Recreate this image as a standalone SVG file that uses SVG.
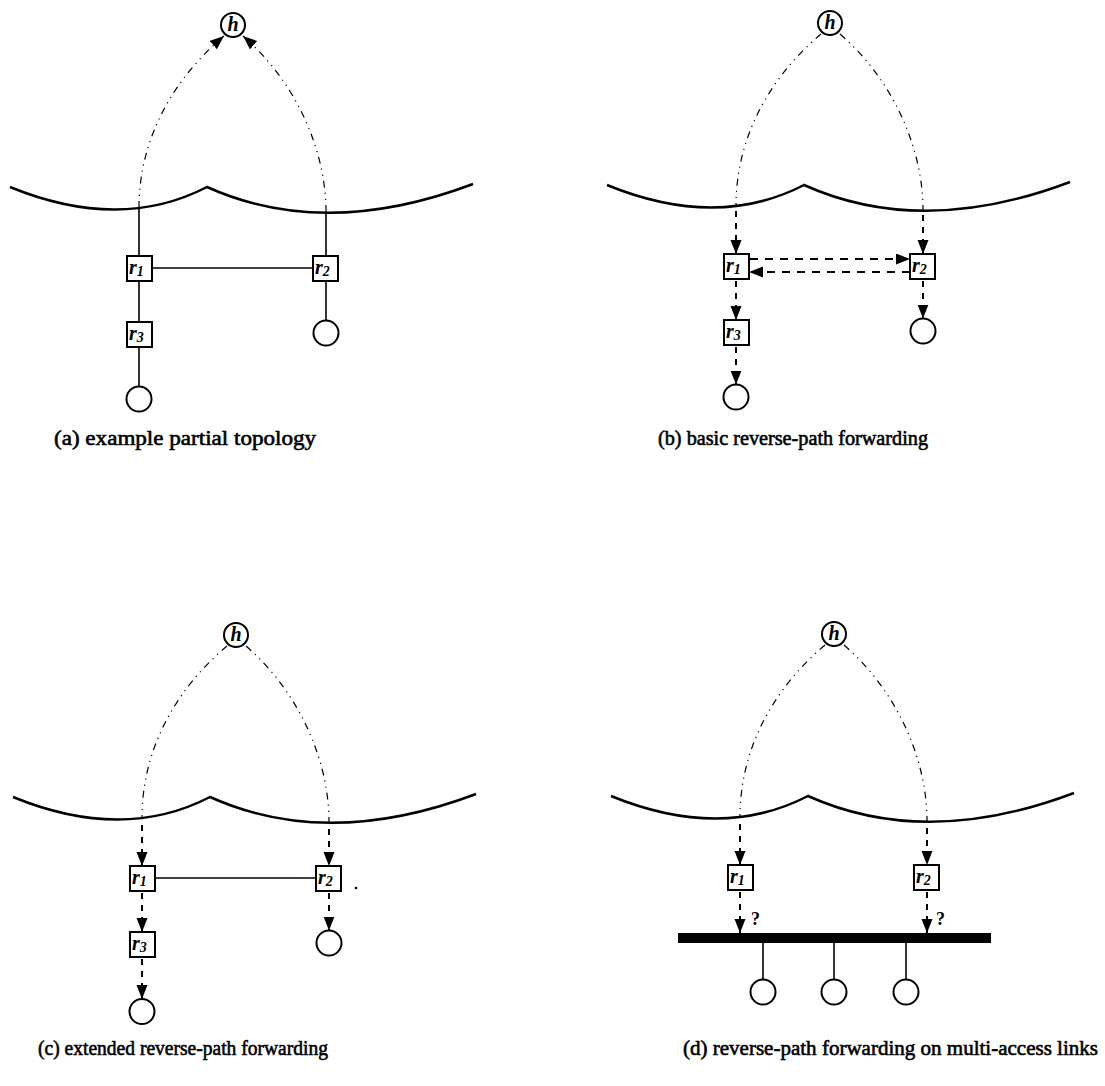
<svg xmlns="http://www.w3.org/2000/svg" width="1105" height="1086" viewBox="0 0 1105 1086">
<style>
.wave{fill:none;stroke:#000;stroke-width:2.5}
.box{fill:#fff;stroke:#000;stroke-width:2}
.host{fill:#fff;stroke:#000;stroke-width:2}
.link{stroke:#000;stroke-width:1.6;fill:none}
.arr{stroke:#000;stroke-width:2;stroke-dasharray:6 6;fill:none}
.harr{stroke:#000;stroke-width:2;stroke-dasharray:8 7;fill:none}
.rp{stroke:#000;stroke-width:1.2;stroke-dasharray:7 5 1.2 5 1.2 5;fill:none}
.lbl{font-family:"Liberation Serif","Times New Roman",serif;font-style:italic;font-weight:bold;font-size:20px}
.sub{font-size:14px}
.q{font-family:"Liberation Serif","Times New Roman",serif;font-weight:bold;font-size:18px}
.cap{font-family:"Liberation Serif","Times New Roman",serif;font-weight:normal;font-size:21px;stroke:#000;stroke-width:0.6}
</style>
<defs>
<marker id="ah" markerUnits="userSpaceOnUse" markerWidth="15" markerHeight="12" refX="14" refY="5.5" orient="auto" viewBox="0 0 15 12"><path d="M0,0 L14,5.5 L0,11 z" fill="#000"/></marker>
<g id="hnode"><circle class="host" cx="233" cy="25" r="12"/><text class="lbl" x="233" y="31" text-anchor="middle" font-size="18">h</text></g>
<path id="waveP" class="wave" d="M10,187 Q120,232 207,187 Q325,240 473,184"/>
</defs>

<!-- Panel (a) -->
<g id="panel-a">
  <use href="#waveP"/>
  <g id="a-connectors">
    <line class="link" x1="139" y1="208" x2="139" y2="256"/>
    <line class="link" x1="326" y1="212" x2="326" y2="256"/>
    <line class="link" x1="152" y1="268" x2="313" y2="268"/>
    <line class="link" x1="139" y1="281" x2="139" y2="322"/>
    <line class="link" x1="139" y1="347" x2="139" y2="386.5"/>
    <line class="link" x1="326" y1="281" x2="326" y2="320.5"/>
    <path class="rp" d="M139,208 C139,140 172,80 224,36" marker-end="url(#ah)"/>
    <path class="rp" d="M326,212 C326,150 296,82 243,36" marker-end="url(#ah)"/>
  </g>
  <g id="a-h"><use href="#hnode"/></g>
  <g id="a-r1"><rect class="box" x="127" y="256" width="25" height="25"/><text class="lbl" x="129" y="274">r<tspan class="sub" dy="2">1</tspan></text></g>
  <g id="a-r2"><rect class="box" x="313" y="256" width="25" height="25"/><text class="lbl" x="315" y="274">r<tspan class="sub" dy="2">2</tspan></text></g>
  <g id="a-r3"><rect class="box" x="127" y="322" width="25" height="25"/><text class="lbl" x="129" y="340">r<tspan class="sub" dy="2">3</tspan></text></g>
  <g id="a-host1"><circle class="host" cx="139" cy="399" r="12.5"/></g>
  <g id="a-host2"><circle class="host" cx="326" cy="333" r="12.5"/></g>
</g>

<!-- Panel (b) -->
<g id="panel-b" transform="translate(597,-2)">
  <use href="#waveP"/>
  <g id="b-connectors">
    <path class="rp" d="M224,36 C172,80 139,140 139,208"/>
    <path class="rp" d="M243,36 C296,82 326,150 326,212"/>
    <line class="arr" x1="139" y1="213" x2="139" y2="256" marker-end="url(#ah)"/>
    <line class="arr" x1="326" y1="217" x2="326" y2="256" marker-end="url(#ah)"/>
    <line class="harr" x1="153" y1="261" x2="313" y2="261" marker-end="url(#ah)"/>
    <line class="harr" x1="313" y1="274" x2="152" y2="274" marker-end="url(#ah)"/>
    <line class="arr" x1="139" y1="283" x2="139" y2="322" marker-end="url(#ah)"/>
    <line class="arr" x1="139" y1="349" x2="139" y2="386.5" marker-end="url(#ah)"/>
    <line class="arr" x1="326" y1="283" x2="326" y2="320.5" marker-end="url(#ah)"/>
  </g>
  <g id="b-h"><use href="#hnode"/></g>
  <g id="b-r1"><rect class="box" x="127" y="256" width="25" height="25"/><text class="lbl" x="129" y="274">r<tspan class="sub" dy="2">1</tspan></text></g>
  <g id="b-r2"><rect class="box" x="313" y="256" width="25" height="25"/><text class="lbl" x="315" y="274">r<tspan class="sub" dy="2">2</tspan></text></g>
  <g id="b-r3"><rect class="box" x="127" y="322" width="25" height="25"/><text class="lbl" x="129" y="340">r<tspan class="sub" dy="2">3</tspan></text></g>
  <g id="b-host1"><circle class="host" cx="139" cy="399" r="12.5"/></g>
  <g id="b-host2"><circle class="host" cx="326" cy="333" r="12.5"/></g>
</g>

<!-- Panel (c) -->
<g id="panel-c" transform="translate(3,610)">
  <use href="#waveP"/>
  <g id="c-connectors">
    <path class="rp" d="M224,36 C172,80 139,140 139,208"/>
    <path class="rp" d="M243,36 C296,82 326,150 326,212"/>
    <line class="arr" x1="139" y1="215" x2="139" y2="256" marker-end="url(#ah)"/>
    <line class="arr" x1="326" y1="219" x2="326" y2="256" marker-end="url(#ah)"/>
    <line class="link" x1="152" y1="268" x2="313" y2="268"/>
    <line class="arr" x1="139" y1="283" x2="139" y2="322" marker-end="url(#ah)"/>
    <line class="arr" x1="139" y1="349" x2="139" y2="389" marker-end="url(#ah)"/>
    <line class="arr" x1="326" y1="283" x2="326" y2="320.5" marker-end="url(#ah)"/>
  </g>
  <g id="c-h"><use href="#hnode"/></g>
  <g id="c-r1"><rect class="box" x="127" y="256" width="25" height="25"/><text class="lbl" x="129" y="274">r<tspan class="sub" dy="2">1</tspan></text></g>
  <g id="c-r2"><rect class="box" x="313" y="256" width="25" height="25"/><text class="lbl" x="315" y="274">r<tspan class="sub" dy="2">2</tspan></text></g>
  <g id="c-r3"><rect class="box" x="127" y="322" width="25" height="25"/><text class="lbl" x="129" y="340">r<tspan class="sub" dy="2">3</tspan></text></g>
  <g id="c-host1"><circle class="host" cx="139" cy="401.5" r="12.5"/></g>
  <g id="c-host2"><circle class="host" cx="326" cy="333" r="12.5"/></g>
  <circle cx="353" cy="278" r="1.3" fill="#000"/>
</g>

<!-- Panel (d) -->
<g id="panel-d" transform="translate(601,609)">
  <use href="#waveP"/>
  <g id="d-connectors">
    <path class="rp" d="M224,36 C172,80 139,140 139,208"/>
    <path class="rp" d="M243,36 C296,82 326,150 326,212"/>
    <line class="arr" x1="139" y1="215" x2="139" y2="256" marker-end="url(#ah)"/>
    <line class="arr" x1="326" y1="219" x2="326" y2="256" marker-end="url(#ah)"/>
    <line class="arr" x1="139" y1="283" x2="139" y2="324" marker-end="url(#ah)"/>
    <line class="arr" x1="326" y1="283" x2="326" y2="324" marker-end="url(#ah)"/>
    <line class="link" x1="162" y1="334" x2="162" y2="370.5"/>
    <line class="link" x1="233" y1="334" x2="233" y2="370.5"/>
    <line class="link" x1="305" y1="334" x2="305" y2="370.5"/>
  </g>
  <text class="q" x="150" y="316">?</text>
  <text class="q" x="335" y="316">?</text>
  <g id="d-h"><use href="#hnode"/></g>
  <g id="d-r1"><rect class="box" x="127" y="256" width="25" height="25"/><text class="lbl" x="129" y="274">r<tspan class="sub" dy="2">1</tspan></text></g>
  <g id="d-r2"><rect class="box" x="313" y="256" width="25" height="25"/><text class="lbl" x="315" y="274">r<tspan class="sub" dy="2">2</tspan></text></g>
  <g id="d-bus"><rect x="77" y="324" width="313" height="10" fill="#000"/></g>
  <g id="d-host1"><circle class="host" cx="162" cy="383" r="12.5"/></g>
  <g id="d-host2"><circle class="host" cx="233" cy="383" r="12.5"/></g>
  <g id="d-host3"><circle class="host" cx="305" cy="383" r="12.5"/></g>
</g>

<!-- Captions -->
<text class="cap" x="54" y="445" textLength="262" lengthAdjust="spacingAndGlyphs">(a) example partial topology</text>
<text class="cap" x="658" y="445" textLength="270" lengthAdjust="spacingAndGlyphs">(b) basic reverse-path forwarding</text>
<text class="cap" x="38" y="1055" textLength="290" lengthAdjust="spacingAndGlyphs">(c) extended reverse-path forwarding</text>
<text class="cap" x="683" y="1055" textLength="415" lengthAdjust="spacingAndGlyphs">(d) reverse-path forwarding on multi-access links</text>
</svg>
